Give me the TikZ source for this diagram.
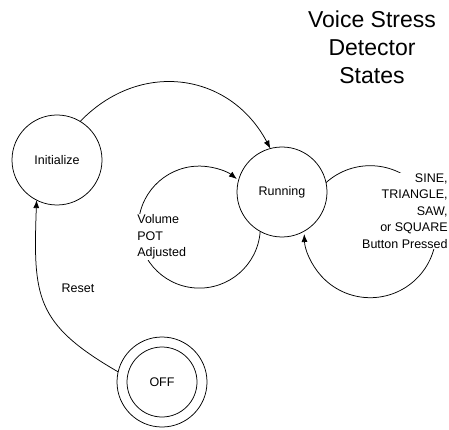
\documentclass[tikz,border=0pt]{standalone}
\usepackage{fontspec}
\setmainfont{Liberation Sans}
\usetikzlibrary{arrows.meta}

\tikzset{
  statenode/.style={circle,draw,minimum size=90pt,inner sep=0pt,outer sep=0pt,
    font=\fontsize{12.5}{15}\selectfont},
  labelnode/.style={fill=white,inner sep=1pt,
    font=\fontsize{12.5}{16.5}\selectfont},
  trans/.style={-{Latex[length=8pt,width=6pt]}}
}

\begin{document}
\begin{tikzpicture}[x=1pt,y=1pt,line width=0.75pt]
    \useasboundingbox (0,0) rectangle (449,-430);

    % 定义状态
    \node[statenode] (init) at (57,-160) {Initialize};
    \node[statenode] (run) at (282,-192) {Running};
    \node[statenode] (off) at (162,-382) {OFF};
    \draw (off.center) circle (35pt);

    % 标题
    \node[align=center,font=\fontsize{23}{28}\selectfont] (title) at (372,-47)
        {Voice Stress\\Detector\\States};

    % 状态转移
    \draw[trans] (init.59) to[out=46,in=118,looseness=1.15] (run.105);
    \draw[trans] (run.241) arc[start angle=-4,end angle=-308,radius=61pt];
    \draw[trans] (run.12) arc[start angle=132,end angle=-178,radius=66pt];
    \draw[trans] (off.167) to[out=150,in=-92,looseness=1.3] (init.-117);

    % 转移标注
    \node[labelnode,align=left,anchor=west] (vol) at (136,-237)
        {Volume\\POT\\Adjusted};
    \node[labelnode,align=right,anchor=east] (btn) at (449,-211)
        {SINE,\\TRIANGLE,\\SAW,\\or SQUARE\\Button Pressed};
    \node[font=\fontsize{12.5}{15}\selectfont] (reset) at (78,-288) {Reset};

\end{tikzpicture}
\end{document}
